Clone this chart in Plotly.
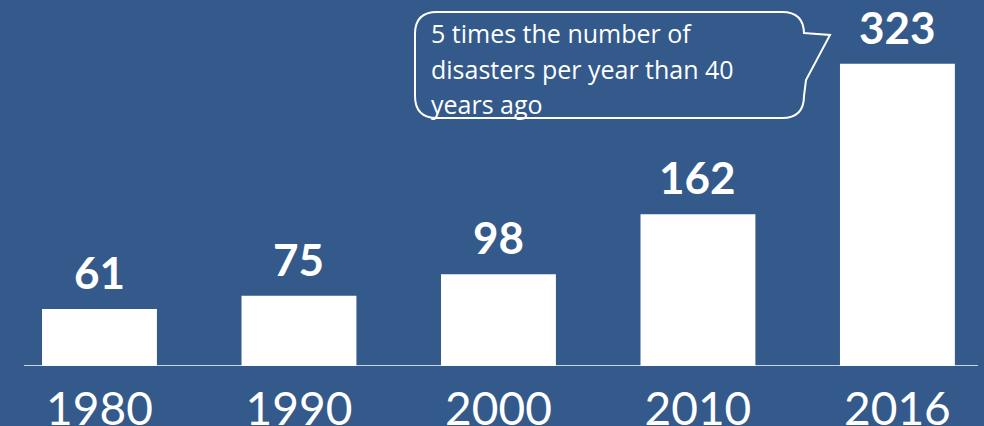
import plotly.graph_objects as go

years = ["1980", "1990", "2000", "2010", "2016"]
disasters = [61, 75, 98, 162, 323]
callout_lines = ["5 times the number of", "disasters per year than 40", "years ago"]

BG = "#34598B"
W, H = 984, 426
PLOT_H = 366  # plot area height in px (bottom margin 60)


def px(x):
    return x / W


def py(y):
    return (PLOT_H - y) / PLOT_H


fig = go.Figure()
fig.add_trace(go.Bar(
    x=years, y=disasters, width=0.576,
    marker=dict(color="white", line=dict(width=0)),
    hoverinfo="skip",
))

# value labels above bars (category index positions)
for i, v in enumerate(disasters):
    fig.add_annotation(x=i, y=v, xref="x", yref="y", text=f"<b>{v}</b>",
                       showarrow=False, yanchor="bottom", yshift=9,
                       font=dict(family="Lato", size=44, color="white"))

# baseline
fig.add_shape(type="line", xref="paper", yref="y", x0=px(24), x1=px(978), y0=0, y1=0,
              line=dict(color="white", width=1.5), layer="below")

# callout bubble (pixel coords converted to paper)
L, R, T, B = 415, 804, 12, 118
r = 22
pts = [
    ("M", (L + r, T)),
    ("L", (R - r, T)),
    ("Q", (R, T), (R, T + r)),
    ("L", (R, 33)),
    ("L", (830, 35)),
    ("L", (R + 2, 80)),
    ("L", (R, B - r)),
    ("Q", (R, B), (R - r, B)),
    ("L", (L + r, B)),
    ("Q", (L, B), (L, B - r)),
    ("L", (L, T + r)),
    ("Q", (L, T), (L + r, T)),
]
path = ""
for item in pts:
    cmd = item[0]
    coords = " ".join(f"{px(x):.5f},{py(y):.5f}" for x, y in item[1:])
    path += f"{cmd}{coords} "
path += "Z"
fig.add_shape(type="path", xref="paper", yref="paper", path=path,
              line=dict(color="white", width=2), fillcolor="rgba(0,0,0,0)")

line_centers = [33, 69, 104]
for txt, yc in zip(callout_lines, line_centers):
    fig.add_annotation(x=px(429), y=py(yc), xref="paper", yref="paper", text=txt,
                       showarrow=False, xanchor="left", yanchor="middle",
                       font=dict(family="Open Sans", size=25, color="white"))

fig.update_layout(
    width=W, height=H,
    margin=dict(l=0, r=0, t=0, b=H - PLOT_H, pad=0, autoexpand=False),
    paper_bgcolor=BG, plot_bgcolor=BG,
    showlegend=False,
    bargap=0.2,
    xaxis=dict(type="category", range=[-0.4987, 4.434], showgrid=False, zeroline=False,
               showline=False, ticks="", ticklabelstandoff=12, automargin=False,
               tickfont=dict(family="Lato", size=46, color="white")),
    yaxis=dict(range=[0, PLOT_H / 0.936], showgrid=False, zeroline=False, showline=False,
               showticklabels=False, ticks="", automargin=False),
)

fig.write_html("out.html")
